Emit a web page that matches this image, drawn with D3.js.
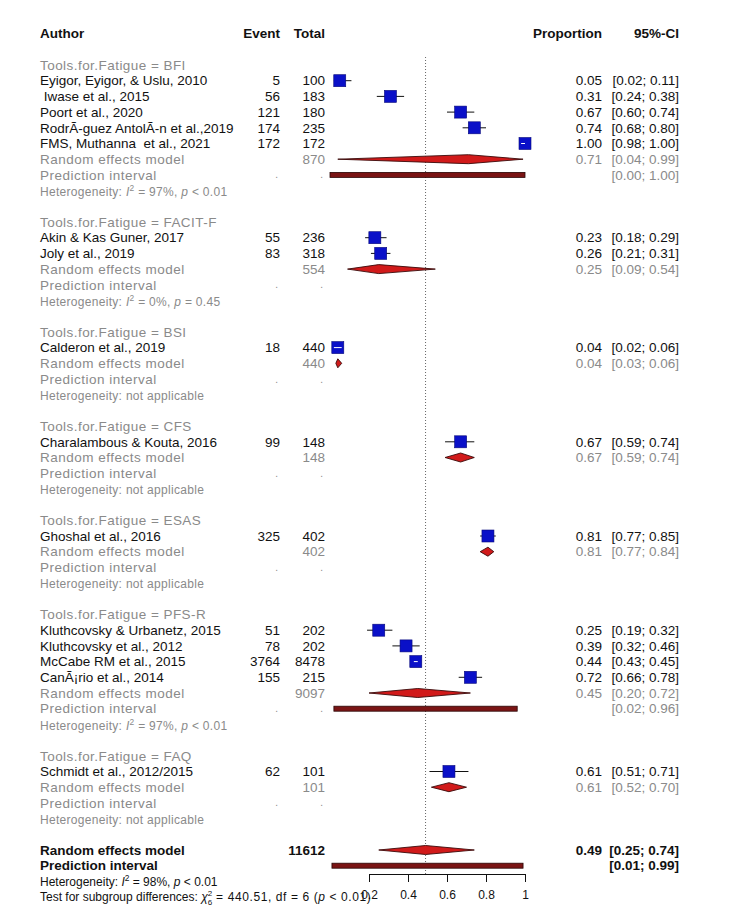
<!DOCTYPE html>
<html>
<head>
<meta charset="utf-8">
<script src="https://cdn.jsdelivr.net/npm/d3@7"></script>
<style>
body { margin: 0; background: #fff; }
text { font-family: "Liberation Sans", Arial, sans-serif; white-space: pre; }
</style>
</head>
<body>
<div id="chart"></div>
<script>
// subgroups (Tools.for.Fatigue)
const groups = ["BFI", "FACIT-F", "BSI", "CFS", "ESAS", "PFS-R", "FAQ"];

// studies
const studyAuthor = ["Eyigor, Eyigor, & Uslu, 2010", " Iwase et al., 2015", "Poort et al., 2020",
  "RodrÃ-guez AntolÃ-n et al.,2019", "FMS, Muthanna  et al., 2021",
  "Akin & Kas Guner, 2017", "Joly et al., 2019",
  "Calderon et al., 2019",
  "Charalambous & Kouta, 2016",
  "Ghoshal et al., 2016",
  "Kluthcovsky & Urbanetz, 2015", "Kluthcovsky et al., 2012", "McCabe RM et al., 2015", "CanÃ¡rio et al., 2014",
  "Schmidt et al., 2012/2015"];
const studyGroup = ["BFI", "BFI", "BFI", "BFI", "BFI", "FACIT-F", "FACIT-F", "BSI", "CFS", "ESAS",
  "PFS-R", "PFS-R", "PFS-R", "PFS-R", "FAQ"];
const studyEvent = [5, 56, 121, 174, 172, 55, 83, 18, 99, 325, 51, 78, 3764, 155, 62];
const studyTotal = [100, 183, 180, 235, 172, 236, 318, 440, 148, 402, 202, 202, 8478, 215, 101];
const studyProp  = [0.05, 0.31, 0.67, 0.74, 1.00, 0.23, 0.26, 0.04, 0.67, 0.81, 0.25, 0.39, 0.44, 0.72, 0.61];
const studyLower = [0.02, 0.24, 0.60, 0.68, 0.98, 0.18, 0.21, 0.02, 0.59, 0.77, 0.19, 0.32, 0.43, 0.66, 0.51];
const studyUpper = [0.11, 0.38, 0.74, 0.80, 1.00, 0.29, 0.31, 0.06, 0.74, 0.85, 0.32, 0.46, 0.45, 0.78, 0.71];

// random effects per subgroup
const groupTotal = [870, 554, 440, 148, 402, 9097, 101];
const groupProp  = [0.71, 0.25, 0.04, 0.67, 0.81, 0.45, 0.61];
const groupLower = [0.04, 0.09, 0.03, 0.59, 0.77, 0.20, 0.52];
const groupUpper = [0.99, 0.54, 0.06, 0.74, 0.84, 0.72, 0.70];
const groupPredLower = [0.00, null, null, null, null, 0.02, null];
const groupPredUpper = [1.00, null, null, null, null, 0.96, null];
const groupI2   = [97, 0, null, null, null, 97, null];
const groupHetP = ["< 0.01", "= 0.45", null, null, null, "< 0.01", null];

// overall
const overallTotal = 11612;
const overallProp = 0.49, overallLower = 0.25, overallUpper = 0.74;
const overallPredLower = 0.01, overallPredUpper = 0.99;
const overallI2 = 98, overallHetP = "< 0.01";
const subgroupChi2 = "440.51", subgroupDf = 6, subgroupP = "< 0.01";

const axisTicks = [0.2, 0.4, 0.6, 0.8, 1];

const width = 753, height = 919;
const svg = d3.select("#chart").append("svg")
  .attr("width", width).attr("height", height);

const x = d3.scaleLinear().domain([0, 1]).range([330, 525]);
const rowY = i => 65 + i * 15.7;

const colAuthor = 40, colEvent = 280, colTotal = 325, colProp = 602, colCI = 679;
const fs = 13.5;
const grey = "#8a8a8a";
const f2 = d3.format(".2f");
const ci = (lo, hi) => "[" + f2(lo) + "; " + f2(hi) + "]";

function txt(xp, y, s, opt) {
  opt = opt || {};
  return svg.append("text")
    .attr("x", xp).attr("y", y + (opt.size || fs) * 0.35)
    .attr("font-size", opt.size || fs)
    .attr("font-weight", opt.bold ? "bold" : null)
    .attr("fill", opt.fill || "#111")
    .attr("letter-spacing", opt.ls || null)
    .attr("text-anchor", opt.anchor || "start")
    .text(s);
}

function hetText(y, i2, p, opt) {
  const t = txt(colAuthor, y, "", opt);
  if (i2 == null) { t.text("Heterogeneity: not applicable"); return; }
  t.append("tspan").text("Heterogeneity: ");
  t.append("tspan").attr("font-style", "italic").text("I");
  t.append("tspan").attr("dy", -5).attr("font-size", (opt.size || fs) * 0.7).text("2");
  t.append("tspan").attr("dy", 5).text(" = " + i2 + "%, ");
  t.append("tspan").attr("font-style", "italic").text("p");
  t.append("tspan").text(" " + p);
}

function diamond(y, est, lo, hi) {
  const h = 4.5;
  svg.append("path")
    .attr("d", `M${x(lo)},${y}L${x(est)},${y - h}L${x(hi)},${y}L${x(est)},${y + h}Z`)
    .attr("fill", "#d11a1a").attr("stroke", "#3a0a0a").attr("stroke-width", 0.9);
}

function predBar(y, lo, hi) {
  svg.append("rect")
    .attr("x", x(lo)).attr("y", y - 2.5)
    .attr("width", x(hi) - x(lo)).attr("height", 5)
    .attr("fill", "#7a1414").attr("stroke", "#2a0505").attr("stroke-width", 0.8);
}

// reference line at the overall estimate
svg.append("line")
  .attr("x1", x(overallProp)).attr("x2", x(overallProp))
  .attr("y1", 57).attr("y2", 874)
  .attr("stroke", "#666").attr("stroke-width", 1).attr("stroke-dasharray", "1,2");

// header
txt(colAuthor, rowY(-2), "Author", {bold: true});
txt(colEvent, rowY(-2), "Event", {bold: true, anchor: "end"});
txt(colTotal, rowY(-2), "Total", {bold: true, anchor: "end"});
txt(colProp, rowY(-2), "Proportion", {bold: true, anchor: "end"});
txt(colCI, rowY(-2), "95%-CI", {bold: true, anchor: "end"});

let row = 0;
const box = 12;
groups.forEach((g, gi) => {
  txt(colAuthor, rowY(row), "Tools.for.Fatigue = " + g, {fill: grey, ls: 0.45});
  row++;
  studyAuthor.forEach((a, si) => {
    if (studyGroup[si] !== g) return;
    const y = rowY(row);
    txt(colAuthor, y, a);
    txt(colEvent, y, studyEvent[si], {anchor: "end"});
    txt(colTotal, y, studyTotal[si], {anchor: "end"});
    txt(colProp, y, f2(studyProp[si]), {anchor: "end"});
    txt(colCI, y, ci(studyLower[si], studyUpper[si]), {anchor: "end"});
    svg.append("line")
      .attr("x1", x(studyLower[si])).attr("x2", x(studyUpper[si]))
      .attr("y1", y).attr("y2", y).attr("stroke", "#111").attr("stroke-width", 1);
    svg.append("rect")
      .attr("x", x(studyProp[si]) - box / 2).attr("y", y - box / 2)
      .attr("width", box).attr("height", box)
      .attr("fill", "#0a10c8").attr("stroke", "#06087a").attr("stroke-width", 0.6);
    // CI narrower than the square: draw it in white on top
    if (x(studyUpper[si]) - x(studyLower[si]) < box) {
      svg.append("line")
        .attr("x1", x(studyLower[si])).attr("x2", x(studyUpper[si]))
        .attr("y1", y).attr("y2", y).attr("stroke", "#fff").attr("stroke-width", 1);
    }
    row++;
  });
  // random effects model
  let y = rowY(row);
  txt(colAuthor, y, "Random effects model", {fill: grey, ls: 0.5});
  txt(colTotal, y, groupTotal[gi], {fill: grey, anchor: "end"});
  txt(colProp, y, f2(groupProp[gi]), {fill: grey, anchor: "end"});
  txt(colCI, y, ci(groupLower[gi], groupUpper[gi]), {fill: grey, anchor: "end"});
  diamond(y, groupProp[gi], groupLower[gi], groupUpper[gi]);
  row++;
  // prediction interval
  y = rowY(row);
  txt(colAuthor, y, "Prediction interval", {fill: grey, ls: 0.5});
  txt(colEvent - 2, y, ".", {fill: grey, anchor: "end", size: 10});
  txt(colTotal - 2, y, ".", {fill: grey, anchor: "end", size: 10});
  if (groupPredLower[gi] != null) {
    txt(colCI, y, ci(groupPredLower[gi], groupPredUpper[gi]), {fill: grey, anchor: "end"});
    predBar(y, groupPredLower[gi], groupPredUpper[gi]);
  }
  row++;
  hetText(rowY(row) + 1, groupI2[gi], groupHetP[gi], {fill: grey, size: 12, ls: 0.3});
  row += 2;
});

// overall
let y = rowY(row);
txt(colAuthor, y, "Random effects model", {bold: true});
txt(colTotal, y, overallTotal, {bold: true, anchor: "end"});
txt(colProp, y, f2(overallProp), {bold: true, anchor: "end"});
txt(colCI, y, ci(overallLower, overallUpper), {bold: true, anchor: "end"});
diamond(y, overallProp, overallLower, overallUpper);
row++;
y = rowY(row);
txt(colAuthor, y, "Prediction interval", {bold: true});
txt(colCI, y, ci(overallPredLower, overallPredUpper), {bold: true, anchor: "end"});
predBar(y, overallPredLower, overallPredUpper);
row++;
hetText(rowY(row), overallI2, overallHetP, {size: 12});
row++;
const tt = txt(colAuthor, rowY(row), "", {size: 12});
tt.append("tspan").text("Test for subgroup differences: ");
tt.append("tspan").attr("font-style", "italic").text("\u03c7");
tt.append("tspan").attr("dy", -5).attr("font-size", 8).text("2");
tt.append("tspan").attr("dx", -4.5).attr("dy", 9).attr("font-size", 8).text(subgroupDf);
const rest = tt.append("tspan").attr("dy", -4).attr("letter-spacing", 0.6);
rest.append("tspan").text(" = " + subgroupChi2 + ", df = " + subgroupDf + " (");
rest.append("tspan").attr("font-style", "italic").text("p");
rest.append("tspan").text(" " + subgroupP + ")");

// x axis
const axisScale = x.copy().domain([axisTicks[0], axisTicks[axisTicks.length - 1]])
  .range([x(axisTicks[0]), x(axisTicks[axisTicks.length - 1])]);
const gx = svg.append("g")
  .attr("transform", "translate(0,874)")
  .call(d3.axisBottom(axisScale).tickValues(axisTicks).tickSize(8).tickSizeOuter(0)
    .tickFormat(d => String(d)));
gx.select(".domain").attr("stroke", "#111");
gx.selectAll(".tick line").attr("stroke", "#111");
gx.selectAll(".tick text")
  .attr("font-family", "Liberation Sans, Arial, sans-serif")
  .attr("font-size", 12).attr("fill", "#111").attr("dy", "1.2em");
</script>
</body>
</html>
